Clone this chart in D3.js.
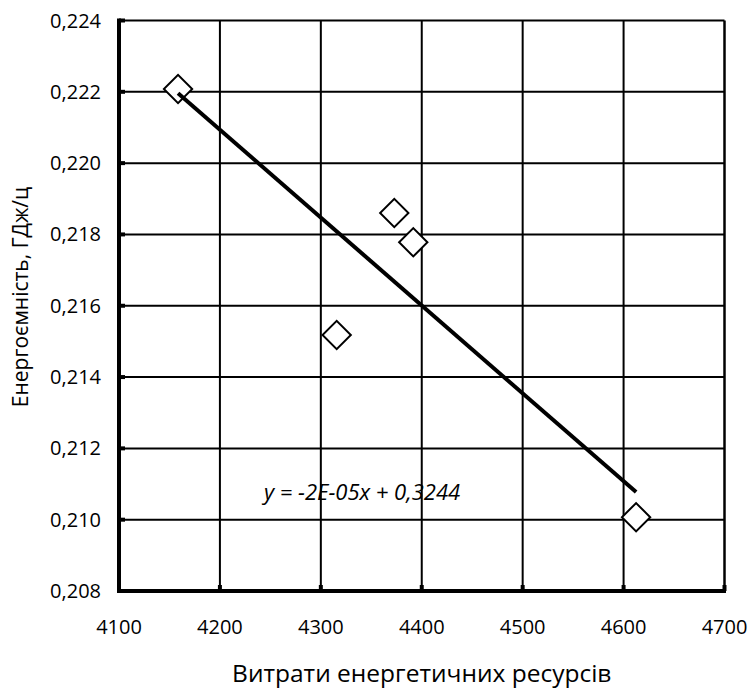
<!DOCTYPE html>
<html>
<head>
<meta charset="utf-8">
<script src="https://cdn.jsdelivr.net/npm/d3@7"></script>
<style>
  html, body { margin: 0; padding: 0; background: #fff; }
  svg { display: block; font-family: "Open Sans", "Noto Sans", sans-serif; }
</style>
</head>
<body>
<svg id="chart" width="751" height="690"></svg>
<script>
// Energy resource spending vs. energy intensity
const resourceSpend = [4158.5, 4315.7, 4372.8, 4391.6, 4612.4];
const energyIntensity = [0.22208, 0.21518, 0.2186, 0.21778, 0.21007];

const xTicks = [4100, 4200, 4300, 4400, 4500, 4600, 4700];
const yTicks = [0.208, 0.210, 0.212, 0.214, 0.216, 0.218, 0.220, 0.222, 0.224];

const xTitle = "Витрати енергетичних ресурсів";
const yTitle = "Енергоємність, ГДж/ц";
const equationText = "y = -2E-05x + 0,3244";

const W = 751, H = 690;
const margin = { top: 20.5, right: 26.5, bottom: 99, left: 119 };

const svg = d3.select("#chart");

const x = d3.scaleLinear().domain([4100, 4700]).range([margin.left, W - margin.right]);
const y = d3.scaleLinear().domain([0.208, 0.224]).range([H - margin.bottom, margin.top]);

const fmtY = v => d3.format(".3f")(v).replace(".", ",");

// grid
const grid = svg.append("g");
grid.selectAll("line.gx").data(xTicks.slice(1)).join("line")
  .attr("x1", d => x(d)).attr("x2", d => x(d))
  .attr("y1", y(0.224)).attr("y2", y(0.208))
  .attr("stroke", "#000").attr("stroke-width", d => d === 4700 ? 2.5 : 2);
grid.selectAll("line.gy").data(yTicks.slice(1)).join("line")
  .attr("y1", d => y(d)).attr("y2", d => y(d))
  .attr("x1", x(4100)).attr("x2", x(4700))
  .attr("stroke", "#000").attr("stroke-width", 2);

// axes lines
svg.append("line")
  .attr("x1", x(4100)).attr("x2", x(4100))
  .attr("y1", y(0.224) - 2).attr("y2", y(0.208) + 2)
  .attr("stroke", "#000").attr("stroke-width", 4);
svg.append("line")
  .attr("x1", x(4100) - 2).attr("x2", x(4700) + 1.5)
  .attr("y1", y(0.208)).attr("y2", y(0.208))
  .attr("stroke", "#000").attr("stroke-width", 4);

// inward tick marks
svg.append("g").selectAll("line").data(yTicks).join("line")
  .attr("x1", x(4100)).attr("x2", x(4100) + 6)
  .attr("y1", d => y(d)).attr("y2", d => y(d))
  .attr("stroke", "#000").attr("stroke-width", 4);
svg.append("g").selectAll("line").data(xTicks).join("line")
  .attr("x1", d => x(d)).attr("x2", d => x(d))
  .attr("y1", y(0.208)).attr("y2", y(0.208) - 6)
  .attr("stroke", "#000").attr("stroke-width", 4);

// tick labels
svg.append("g").selectAll("text").data(yTicks).join("text")
  .attr("x", 101).attr("y", d => y(d))
  .attr("dy", "0.35em")
  .attr("text-anchor", "end")
  .attr("font-size", 20)
  .attr("fill", "#000")
  .text(fmtY);
svg.append("g").selectAll("text").data(xTicks).join("text")
  .attr("x", d => x(d)).attr("y", 627)
  .attr("dy", "0.35em")
  .attr("text-anchor", "middle")
  .attr("font-size", 20)
  .attr("fill", "#000")
  .text(d => d);

// axis titles
svg.append("text")
  .attr("x", (x(4100) + x(4700)) / 2).attr("y", 682)
  .attr("text-anchor", "middle")
  .attr("font-size", 24.5)
  .attr("fill", "#000")
  .text(xTitle);
svg.append("text")
  .attr("transform", `translate(28, 297) rotate(-90)`)
  .attr("text-anchor", "middle")
  .attr("font-size", 21)
  .attr("fill", "#000")
  .text(yTitle);

// markers
const diamond = d3.symbol().type(d3.symbolSquare).size(20 * 20);
svg.append("g").selectAll("path").data(resourceSpend).join("path")
  .attr("d", diamond)
  .attr("transform", (d, i) => `translate(${x(d)},${y(energyIntensity[i])}) rotate(45)`)
  .attr("fill", "#fff").attr("stroke", "#000").attr("stroke-width", 2);

// least-squares trend line
const mx = d3.mean(resourceSpend), my = d3.mean(energyIntensity);
let sxy = 0, sxx = 0;
resourceSpend.forEach((v, i) => { sxy += (v - mx) * (energyIntensity[i] - my); sxx += (v - mx) ** 2; });
const slope = sxy / sxx, intercept = my - slope * mx;
const [x0, x1] = d3.extent(resourceSpend);
svg.append("line")
  .attr("x1", x(x0)).attr("y1", y(intercept + slope * x0))
  .attr("x2", x(x1)).attr("y2", y(intercept + slope * x1))
  .attr("stroke", "#000").attr("stroke-width", 4);

// equation label
svg.append("text")
  .attr("x", 362).attr("y", 500)
  .attr("text-anchor", "middle")
  .attr("font-size", 22)
  .attr("font-style", "italic")
  .attr("fill", "#000")
  .text(equationText);
</script>
</body>
</html>
